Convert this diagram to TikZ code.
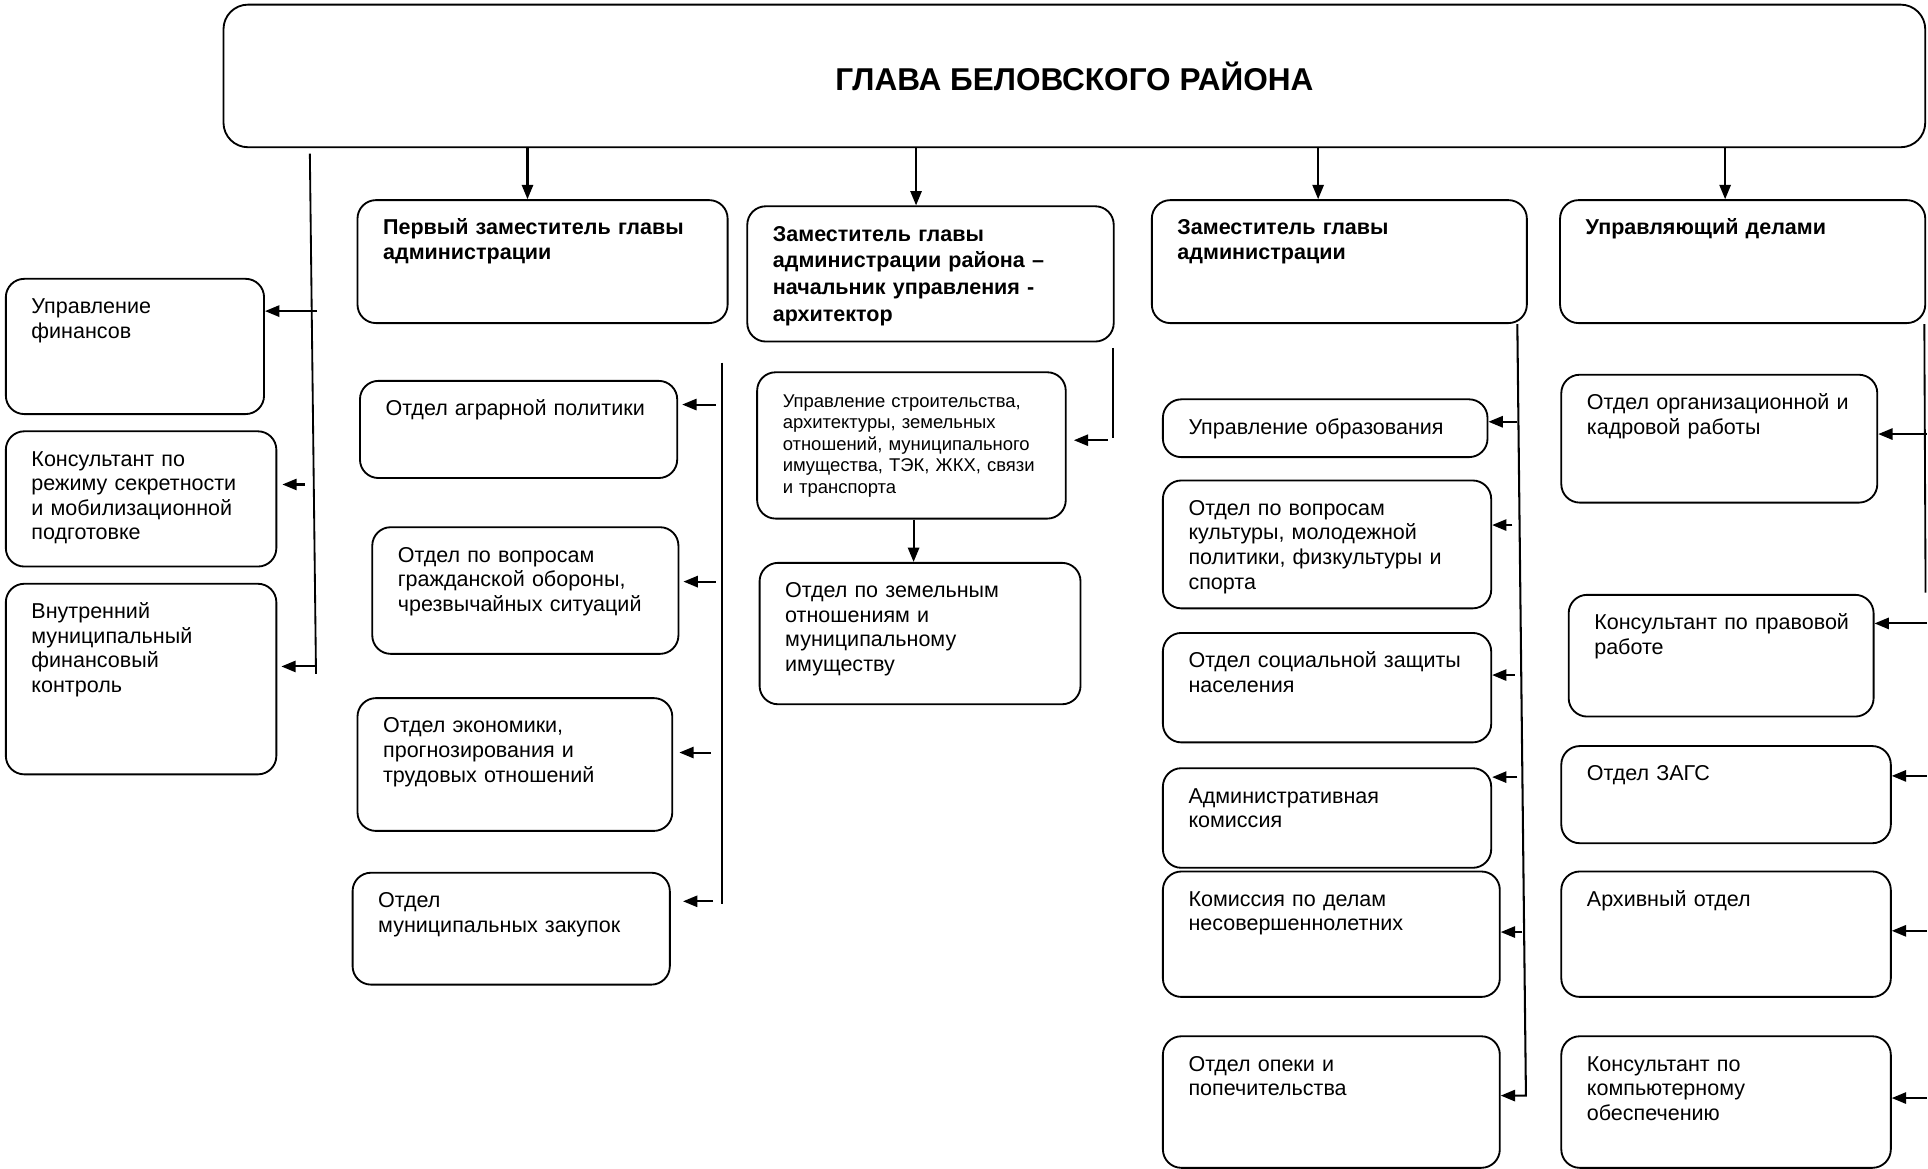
\documentclass[tikz,border=0pt]{standalone}
\usepackage{fontspec}
\setmainfont{Liberation Sans}
\usetikzlibrary{arrows.meta}
\tikzset{
  unit/.style 2 args={draw, line width=0.9pt, rounded corners=9pt, anchor=north west,
    align=left, inner xsep=12.5pt, inner ysep=0pt,
    text width=0.6pt*#1-25pt, text height=17pt, text depth=0.6pt*#2-17pt,
    font=\fontsize{10.5}{12}\selectfont},
  head/.style 2 args={unit={#1}{#2}, font=\fontsize{10.5}{12}\selectfont\bfseries},
  bus/.style={line width=0.9pt},
  arr/.style={line width=1pt, -{Triangle[length=7pt,width=5.5pt]}},
}
\begin{document}
\begin{tikzpicture}[x=0.6pt, y=-0.6pt]
    \useasboundingbox (0,0) rectangle (1568,950);

    % Head
    \node[draw, line width=0.9pt, rounded corners=12pt, anchor=north west, minimum width=830.4pt, minimum height=69.6pt, font=\fontsize{15.4}{18}\selectfont\bfseries] (glava) at (181,3) {ГЛАВА БЕЛОВСКОГО РАЙОНА};

    % Left column
    \node[unit={210}{110}] (fin) at (4,226) {Управление\\финансов};
    \node[unit={220}{110}] (sekr) at (4,350) {Консультант по\\режиму секретности\\и мобилизационной\\подготовке};
    \node[unit={220}{155}] (kontr) at (4,474) {Внутренний\\муниципальный\\финансовый\\контроль};

    % First deputy
    \node[head={301}{100}] (perv) at (290,162) {Первый заместитель главы\\администрации};
    \node[unit={258}{79}] (agr) at (292,309) {Отдел аграрной политики};
    \node[unit={249}{103}] (go) at (302,428) {Отдел по вопросам\\гражданской обороны,\\чрезвычайных ситуаций};
    \node[unit={256}{108}] (ekon) at (290,567) {Отдел экономики,\\прогнозирования и\\трудовых отношений};
    \node[unit={258}{91}] (zak) at (286,709) {Отдел\\муниципальных закупок};

    % Deputy - architect
    \node[head={298}{110}, font=\fontsize{10.5}{13}\selectfont\bfseries] (arch) at (607,167) {Заместитель главы\\администрации района –\\начальник управления -\\архитектор};
    \node[unit={251}{119}, font=\fontsize{9}{10.5}\selectfont] (stroy) at (615,302) {Управление строительства,\\архитектуры, земельных\\отношений, муниципального\\имущества, ТЭК, ЖКХ, связи\\и транспорта};
    \node[unit={261}{115}] (zem) at (617,457) {Отдел по земельным\\отношениям и\\муниципальному\\имуществу};

    % Deputy
    \node[head={305}{100}] (zam) at (936,162) {Заместитель главы\\администрации};
    \node[unit={264}{47}] (obr) at (945,324) {Управление образования};
    \node[unit={267}{104}] (kult) at (945,390) {Отдел по вопросам\\культуры, молодежной\\политики, физкультуры и\\спорта};
    \node[unit={267}{89}] (soc) at (945,514) {Отдел социальной защиты\\населения};
    \node[unit={267}{81}] (adm) at (945,624) {Административная\\комиссия};
    \node[unit={274}{102}] (knd) at (945,708) {Комиссия по делам\\несовершеннолетних};
    \node[unit={274}{107}] (opek) at (945,842) {Отдел опеки и\\попечительства};

    % Managing director
    \node[head={297}{100}] (upr) at (1268,162) {Управляющий делами};
    \node[unit={257}{104}] (kadr) at (1269,304) {\mbox{Отдел организационной и}\\кадровой работы};
    \node[unit={248}{99}] (prav) at (1275,483) {\mbox{Консультант по правовой}\\работе};
    \node[unit={268}{79}] (zags) at (1269,606) {Отдел ЗАГС};
    \node[unit={268}{102}] (arh) at (1269,708) {Архивный отдел};
    \node[unit={268}{107}] (komp) at (1269,842) {Консультант по\\компьютерному\\обеспечению};

    % Head to deputies
    \foreach \x/\n in {429/perv, 745/arch, 1072/zam, 1403/upr}
      \draw[arr] (glava.south -| \x,0) -- (\n.north -| \x,0);

    % Left column
    \draw[bus] (252,125) -- (257,548);
    \foreach \n/\x/\y/\g in {fin/258/253/0, sekr/248/394/2.5, kontr/257/542/2}
      \draw[arr, shorten >=\g pt] (\x,\y) coordinate (s-\n) -- (s-\n -| \n.east);

    % First deputy
    \draw[bus] (587,295) -- (587,735);
    \foreach \n/\x/\y/\g in {agr/582/329/2, go/582/473/2, ekon/578/612/3, zak/580/733/6}
      \draw[arr, shorten >=\g pt] (\x,\y) coordinate (s-\n) -- (s-\n -| \n.east);

    % Deputy - architect
    \draw[bus] (905,283) -- (905,356);
    \draw[arr, shorten >=3.5pt] (901,358) coordinate (s-stroy) -- (s-stroy -| stroy.east);
    \draw[arr] (stroy.south -| 743,0) -- (zem.north -| 743,0);

    % Deputy
    \draw[arr] (zam.south -| 1234,0) -- (1241,891) coordinate (s-opek) -- (s-opek -| opek.east);
    \foreach \n/\x/\y in {obr/1234/343, kult/1230/427, soc/1232/549, adm/1234/632, knd/1238/758}
      \draw[arr] (\x,\y) coordinate (s-\n) -- (s-\n -| \n.east);

    % Managing director
    \draw[bus] (upr.south -| 1565,0) -- (1566,482);
    \foreach \n/\y in {kadr/353, prav/507, zags/631, arh/757, komp/893}
      \draw[arr] (1567,\y) coordinate (s-\n) -- (s-\n -| \n.east);
\end{tikzpicture}
\end{document}
